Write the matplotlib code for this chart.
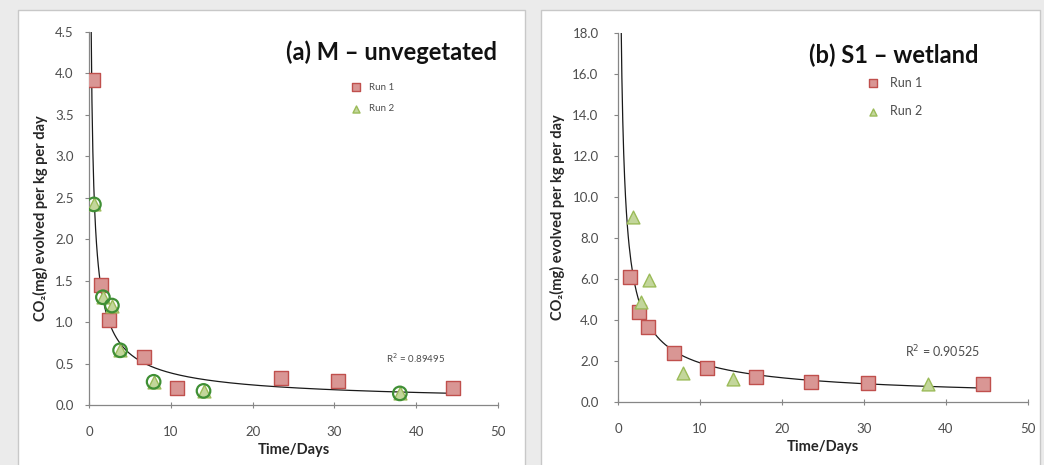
import numpy as np
import matplotlib.pyplot as plt
from matplotlib.patches import Rectangle

plt.rcParams['font.family'] = ['Lato', 'DejaVu Sans']

# (a) M - unvegetated
m_run1_t = [0.5, 1.5, 2.5, 6.7, 10.8, 23.5, 30.5, 44.5]
m_run1_y = [3.92, 1.45, 1.02, 0.58, 0.20, 0.32, 0.29, 0.20]
m_run2_t = [0.6, 1.7, 2.8, 3.8, 7.9, 14.0, 38.0]
m_run2_y = [2.42, 1.30, 1.20, 0.66, 0.28, 0.17, 0.14]
m_r2 = 0.89495

# (b) S1 - wetland
s_run1_t = [1.5, 2.5, 3.7, 6.8, 10.8, 16.8, 23.5, 30.5, 44.5]
s_run1_y = [6.1, 4.4, 3.65, 2.4, 1.65, 1.2, 1.0, 0.95, 0.9]
s_run2_t = [1.8, 2.8, 3.8, 7.9, 14.0, 37.8]
s_run2_y = [9.0, 4.9, 5.95, 1.4, 1.1, 0.9]
s_r2 = 0.90525

xticks = [0, 10, 20, 30, 40, 50]
m_yticks = [0.0, 0.5, 1.0, 1.5, 2.0, 2.5, 3.0, 3.5, 4.0, 4.5]
s_yticks = [0.0, 2.0, 4.0, 6.0, 8.0, 10.0, 12.0, 14.0, 16.0, 18.0]

sq_face, sq_edge = '#d99694', '#c0504d'
tri_face, tri_edge = '#c3d69b', '#9bbb59'
grey = '#4d4d4d'


def power_fit(t, y):
    b, loga = np.polyfit(np.log(t), np.log(y), 1)
    return np.exp(loga), b


fig = plt.figure(figsize=(10.44, 4.65), dpi=100)
fig.patch.set_facecolor('#ebebeb')

# white chart areas behind the axes
for x0, w in [(18, 507), (541, 499)]:
    fig.patches.append(Rectangle((x0 / 1044, -0.01), w / 1044, 1.01 - 10 / 465,
                                 transform=fig.transFigure, facecolor='white',
                                 edgecolor='#c8c8c8', lw=1.0, zorder=-10))

panels = [
    dict(rect=[89 / 1044, 60 / 465, 409 / 1044, 373 / 465],
         r1=(m_run1_t, m_run1_y), r2=(m_run2_t, m_run2_y), r2val=m_r2,
         yticks=m_yticks, ylim=4.5, title='(a) M \u2013 unvegetated',
         title_xy=(0.998, 0.946), title_ha='right', rings=True, ypad=8,
         leg_xy=(0.62, 0.875), leg_fs=7, r2_xy=(0.725, 0.125), r2_fs=7),
    dict(rect=[618 / 1044, 63 / 465, 410 / 1044, 369 / 465],
         r1=(s_run1_t, s_run1_y), r2=(s_run2_t, s_run2_y), r2val=s_r2,
         yticks=s_yticks, ylim=18.0, title='(b) S1 \u2013 wetland',
         title_xy=(0.673, 0.94), title_ha='center', rings=False, ypad=11,
         leg_xy=(0.58, 0.895), leg_fs=9, r2_xy=(0.70, 0.135), r2_fs=9),
]

for p in panels:
    ax = fig.add_axes(p['rect'])
    ax.set_facecolor('none')
    t1, y1 = p['r1']
    t2, y2 = p['r2']

    a, b = power_fit(np.array(t1 + t2), np.array(y1 + y2))
    tt = np.linspace(0.25, max(t1 + t2), 400)
    ax.plot(tt, a * tt ** b, color='#1a1a1a', lw=0.9, zorder=2)

    ax.scatter(t1, y1, marker='s', s=90, facecolor=sq_face, edgecolor=sq_edge,
               lw=1.0, zorder=3, label='Run 1')
    ax.scatter(t2, y2, marker='^', s=85, facecolor=tri_face, edgecolor=tri_edge,
               lw=1.0, zorder=4, label='Run 2')
    if p['rings']:
        ax.scatter(t2, y2, marker='o', s=95, facecolor='none', edgecolor='#3f8f35',
                   lw=1.6, zorder=5)

    ax.set_xlim(0, 50)
    ax.set_ylim(0, p['ylim'])
    ax.set_xticks(xticks)
    ax.set_yticks(p['yticks'])
    ax.yaxis.set_major_formatter(plt.FormatStrFormatter('%.1f'))
    for s in ['top', 'right']:
        ax.spines[s].set_visible(False)
    for s in ['left', 'bottom']:
        ax.spines[s].set_color('#868686')
        ax.spines[s].set_linewidth(0.9)
    ax.tick_params(axis='both', colors='#868686', labelcolor=grey,
                   labelsize=9.5, length=3, width=0.8)
    ax.tick_params(axis='y', pad=p['ypad'])
    ax.tick_params(axis='x', direction='inout', length=4, pad=13)

    ax.set_xlabel('Time/Days', fontsize=10.5, fontweight='bold', color='#262626',
                  labelpad=4)
    ax.set_ylabel('CO\u2082(mg) evolved per kg per day', fontsize=10.5,
                  fontweight='bold', color='#262626', labelpad=5)

    ax.text(*p['title_xy'], p['title'], transform=ax.transAxes, ha=p['title_ha'],
            va='center', fontsize=17, fontweight='bold', color='#111111')

    leg = ax.legend(loc='upper left', bbox_to_anchor=p['leg_xy'], frameon=False,
                    fontsize=p['leg_fs'], handletextpad=0.3, labelspacing=1.3,
                    markerscale=0.55, labelcolor=grey, borderaxespad=0)

    ax.text(*p['r2_xy'], 'R$^2$ = %.5f' % p['r2val'], transform=ax.transAxes,
            fontsize=p['r2_fs'], color=grey, ha='left', va='center')

fig.savefig('out.png', dpi=100, facecolor=fig.get_facecolor())
